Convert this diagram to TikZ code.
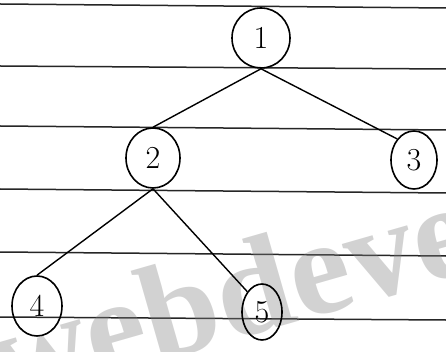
\documentclass[tikz,border=0pt]{standalone}
\usepackage{fontspec}
\newfontfamily\markfont{Liberation Serif}
\usetikzlibrary{shapes.geometric}
\begin{document}
\begin{tikzpicture}
  [x=1pt,y=-1pt,
    vertex/.style={draw,ellipse,line width=1.6pt,inner sep=0pt,
    font=\fontsize{32}{32}\selectfont},
    edge/.style={line width=1.4pt},
    ruling/.style={line width=1.5pt,black!85}]
  \useasboundingbox[fill=white] (0,0) rectangle (446,352);
  % lined paper
  \foreach \y/\d in {4/4,66/3,126/4,189/4,252/4,317/3}
    \draw[ruling] (0,\y) -- (446,\y+\d);
  % watermark
  \node[rotate=16,anchor=base,text=gray,text opacity=0.35,inner sep=0pt,
    font=\markfont\bfseries\fontsize{136}{136}\selectfont] (mark) at (214,346) {ewebdeve};
  % tree
  \node[vertex,minimum width=58pt,minimum height=60pt] (n1) at (261,38) {1};
  \node[vertex,minimum width=54pt,minimum height=60pt] (n2) at (153,158) {2};
  \node[vertex,minimum width=46pt,minimum height=58pt] (n3) at (414,160) {3};
  \node[vertex,minimum width=50pt,minimum height=60pt] (n4) at (37,306) {4};
  \node[vertex,minimum width=40pt,minimum height=56pt] (n5) at (262,312) {5};
  \draw[edge] (n1.south) -- (n2.north);
  \draw[edge] (n1.south) -- (n3.north west);
  \draw[edge] (n2.south) -- (n4.north);
  \draw[edge] (n2.south) -- (n5.north west);
\end{tikzpicture}
\end{document}
